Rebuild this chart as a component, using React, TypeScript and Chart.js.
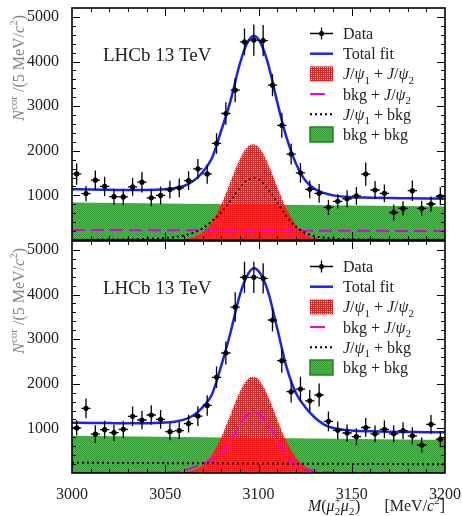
import React, { useEffect, useRef } from "react";
import { Chart, registerables } from "chart.js";
Chart.register(...registerables);

const FONT = '"Liberation Serif", "DejaVu Serif", serif';

// ---- data ----
const binCenters = [
  3002.5, 3007.5, 3012.5, 3017.5, 3022.5, 3027.5, 3032.5, 3037.5, 3042.5, 3047.5,
  3052.5, 3057.5, 3062.5, 3067.5, 3072.5, 3077.5, 3082.5, 3087.5, 3092.5, 3097.5,
  3102.5, 3107.5, 3112.5, 3117.5, 3122.5, 3127.5, 3132.5, 3137.5, 3142.5, 3147.5,
  3152.5, 3157.5, 3162.5, 3167.5, 3172.5, 3177.5, 3182.5, 3187.5, 3192.5, 3197.5,
];
const halfBin = 2.5;

const dataTop = [
  1480, 1040, 1340, 1200, 970, 965, 1190, 1295, 945, 1000,
  1130, 1170, 1330, 1595, 1480, 2165, 2835, 3360, 4440, 4480,
  4470, 3470, 2570, 1925, 1505, 1136, 1046, 733, 866, 925,
  990, 1477, 1121, 1046, 616, 707, 1106, 710, 807, 980,
];
const errTop = [
  240, 170, 220, 220, 180, 180, 200, 230, 190, 200,
  200, 210, 210, 220, 220, 230, 250, 270, 300, 350,
  350, 250, 280, 230, 220, 200, 210, 170, 160, 190,
  200, 260, 200, 200, 180, 160, 230, 170, 170, 200,
];
const dataBottom = [
  1010, 1449, 870, 972, 904, 979, 1270, 1188, 1300, 1203,
  926, 952, 1105, 1275, 1515, 2145, 2690, 3720, 4386, 4386,
  4363, 3429, 2517, 1822, 1880, 1618, 1748, 1158, 956, 896,
  814, 1020, 878, 979, 878, 948, 833, 628, 1091, 758,
];
const errBottom = [
  170, 220, 200, 200, 180, 190, 220, 210, 220, 210,
  190, 190, 200, 220, 230, 240, 260, 330, 350, 350,
  340, 260, 270, 240, 280, 240, 260, 220, 200, 190,
  190, 210, 190, 200, 190, 190, 190, 170, 210, 180,
];

// curve sampling positions
const curveX = [
  3000, 3010, 3020, 3030, 3040, 3050, 3055, 3060, 3065, 3070, 3075, 3080, 3085, 3090,
  3094, 3097.5, 3101, 3105, 3110, 3115, 3120, 3125, 3130, 3135, 3140, 3150, 3160,
  3170, 3180, 3190, 3200,
];
const fitTop = [
  1140, 1130, 1125, 1120, 1120, 1135, 1160, 1210, 1320, 1520, 1830, 2450, 3120, 3950,
  4420, 4580, 4430, 3970, 3100, 2300, 1720, 1340, 1150, 1055, 1000, 960, 948,
  940, 935, 930, 925,
];
const fitBottom = [
  1125, 1122, 1118, 1115, 1115, 1130, 1150, 1195, 1290, 1470, 1760, 2400, 3150, 3990,
  4430, 4590, 4470, 4080, 3250, 2380, 1800, 1480, 1250, 1090, 1010, 955, 935,
  925, 920, 915, 912,
];
const sigSigTop = [
  0, 0, 0, 0, 0, 1, 5, 19, 61, 171, 400, 789, 1304, 1813,
  2083, 2148, 2034, 1722, 1196, 698, 343, 141, 49, 14, 3, 0, 0,
  0, 0, 0, 0,
];
const sigSigBottom = [
  0, 0, 0, 0, 0, 1, 6, 20, 63, 175, 405, 795, 1310, 1820,
  2090, 2155, 2040, 1730, 1205, 705, 350, 145, 52, 15, 4, 0, 0,
  0, 0, 0, 0,
];
const psi1BkgTop = [
  5, 8, 10, 15, 25, 45, 65, 100, 160, 260, 420, 620, 880, 1170,
  1340, 1390, 1330, 1150, 860, 530, 300, 160, 90, 55, 35, 18, 10,
  7, 5, 4, 3,
];
const bkgPsi2Bottom = [
  2, 3, 4, 6, 10, 12, 20, 60, 125, 205, 300, 440, 700, 1080,
  1300, 1360, 1300, 1090, 760, 400, 200, 85, 40, 20, 10, 6, 4,
  3, 3, 2, 2,
];
// flat components
const flatX = [3000, 3200];
const bkgBkgTop = [840, 750];
const bkgBkgBottom = [835, 740];
const bkgPsi2Top = [225, 200];
const psi1BkgBottom = [230, 195];

const yTicks = [1000, 2000, 3000, 4000, 5000];
const xTicks = [3000, 3050, 3100, 3150, 3200];
const yRange = [0, 5200];
const xRange = [3000, 3200];
const yMinorStep = 200;
const xMinorStep = 10;

// ---- rich text helper ----
type Seg = { t: string; it?: boolean; sub?: boolean; sup?: boolean; stackSup?: string };
function segFont(s: Seg, size: number) {
  const sz = s.sub || s.sup ? Math.round(size * 0.7) : size;
  return `${s.it ? "italic " : ""}${sz}px ${FONT}`;
}
function measureRich(ctx: CanvasRenderingContext2D, segs: Seg[], size: number) {
  let w = 0;
  for (const s of segs) {
    ctx.font = segFont(s, size);
    let sw = ctx.measureText(s.t).width;
    if (s.stackSup) sw = Math.max(sw, ctx.measureText(s.stackSup).width);
    w += sw;
  }
  return w;
}
function drawRich(
  ctx: CanvasRenderingContext2D, segs: Seg[], x: number, y: number,
  size: number, color: string, align: "left" | "right" = "left"
) {
  const w = measureRich(ctx, segs, size);
  let cx = align === "right" ? x - w : x;
  ctx.save();
  ctx.fillStyle = color;
  ctx.textAlign = "left";
  ctx.textBaseline = "alphabetic";
  for (const s of segs) {
    ctx.font = segFont(s, size);
    const dy = s.sub ? size * 0.28 : s.sup ? -size * 0.42 : 0;
    ctx.fillText(s.t, cx, y + dy);
    let sw = ctx.measureText(s.t).width;
    if (s.stackSup) {
      ctx.fillText(s.stackSup, cx, y - size * 0.42);
      sw = Math.max(sw, ctx.measureText(s.stackSup).width);
    }
    cx += sw;
  }
  ctx.restore();
}

const psi = (n: string): Seg[] => [{ t: "J", it: true }, { t: "/" }, { t: "ψ", it: true }, { t: n, sub: true }];
const legendTexts: Seg[][] = [
  [{ t: "Data" }],
  [{ t: "Total fit" }],
  [...psi("1"), { t: " + " }, ...psi("2")],
  [{ t: "bkg + " }, ...psi("2")],
  [...psi("1"), { t: " + bkg" }],
  [{ t: "bkg + bkg" }],
];
const yTitle: Seg[] = [
  { t: "N", it: true }, { t: "cor", sup: true }, { t: " /(5 MeV/" }, { t: "c", it: true },
  { t: "2", sup: true }, { t: ")" },
];
const xTitle: Seg[] = [
  { t: "M", it: true }, { t: "(" }, { t: "μ", it: true }, { t: "2", sub: true, stackSup: "+" },
  { t: "μ", it: true }, { t: "2", sub: true, stackSup: "−" }, { t: ")" }, { t: "      " },
  { t: "[MeV/" }, { t: "c", it: true }, { t: "2", sup: true }, { t: "]" },
];

const BLUE = "rgb(25,35,235)";
const MAGENTA = "rgb(225,0,225)";
const RED = "rgb(250,25,25)";

function makePatterns() {
  const r = document.createElement("canvas");
  r.width = 2; r.height = 2;
  const rc = r.getContext("2d")!;
  rc.fillStyle = RED;
  rc.fillRect(0, 0, 1, 1); rc.fillRect(1, 0, 1, 1); rc.fillRect(0, 1, 1, 1);
  const g = document.createElement("canvas");
  g.width = 2; g.height = 2;
  const gc = g.getContext("2d")!;
  gc.fillStyle = "rgb(76,182,76)"; gc.fillRect(0, 0, 2, 2);
  gc.fillStyle = "rgb(56,160,56)"; gc.fillRect(0, 0, 1, 1); gc.fillRect(1, 1, 1, 1);
  const tmp = document.createElement("canvas").getContext("2d")!;
  return {
    red: tmp.createPattern(r, "repeat")!,
    green: tmp.createPattern(g, "repeat")!,
  };
}

const pts = (xs: number[], ys: number[]) => xs.map((x, i) => ({ x, y: ys[i] }));

type Panel = {
  data: number[]; err: number[]; fit: number[]; sig: number[];
  green: number[];
  magenta: { x: number[]; y: number[] };
  dotted: { x: number[]; y: number[] };
  showX: boolean;
};

function makeConfig(p: Panel, pat: { red: CanvasPattern; green: CanvasPattern }): any {
  const decor = {
    id: "decor",
    beforeDatasetDraw(chart: any, args: any) {
      const ds = chart.data.datasets[args.index];
      if (!ds.errors) return;
      const { ctx, scales } = chart;
      const xs = scales.x, ys = scales.y;
      ctx.save();
      ctx.strokeStyle = "#000";
      ctx.lineWidth = 1.3;
      ds.data.forEach((d: any, i: number) => {
        const e = ds.errors[i];
        const px = xs.getPixelForValue(d.x), py = ys.getPixelForValue(d.y);
        ctx.beginPath();
        ctx.moveTo(xs.getPixelForValue(d.x - halfBin), py);
        ctx.lineTo(xs.getPixelForValue(d.x + halfBin), py);
        ctx.moveTo(px, ys.getPixelForValue(d.y - e));
        ctx.lineTo(px, ys.getPixelForValue(d.y + e));
        ctx.stroke();
      });
      ctx.restore();
    },
    afterDraw(chart: any) {
      const { ctx, chartArea: a, scales } = chart;
      const xs = scales.x, ys = scales.y;
      ctx.save();
      // ticks
      ctx.strokeStyle = "#000";
      ctx.lineWidth = 1;
      ctx.beginPath();
      for (let v = yRange[0] + yMinorStep; v < yRange[1]; v += yMinorStep) {
        const py = Math.round(ys.getPixelForValue(v)) + 0.5;
        const L = yTicks.includes(v) ? 8 : 4;
        ctx.moveTo(a.left, py); ctx.lineTo(a.left + L, py);
        ctx.moveTo(a.right, py); ctx.lineTo(a.right - L, py);
      }
      for (let v = xRange[0] + xMinorStep; v < xRange[1]; v += xMinorStep) {
        const px = Math.round(xs.getPixelForValue(v)) + 0.5;
        const L = xTicks.includes(v) ? 8 : 4;
        ctx.moveTo(px, a.bottom); ctx.lineTo(px, a.bottom - L);
        ctx.moveTo(px, a.top); ctx.lineTo(px, a.top + L);
      }
      ctx.stroke();
      // frame
      ctx.lineWidth = 1.6;
      ctx.strokeRect(a.left, a.top, a.right - a.left, a.bottom - a.top);
      ctx.restore();

      // LHCb label
      ctx.save();
      ctx.font = `19px ${FONT}`;
      ctx.fillStyle = "#222";
      ctx.textBaseline = "alphabetic";
      ctx.fillText("LHCb 13 TeV", a.left + 31, a.top + 53);
      ctx.restore();

      // y title
      ctx.save();
      ctx.translate(24, a.top + 7);
      ctx.rotate(-Math.PI / 2);
      drawRich(ctx, yTitle, 0, 0, 16, "#858585", "right");
      ctx.restore();

      // legend
      const sx0 = a.left + 238, sx1 = a.left + 261, tx = a.left + 271;
      legendTexts.forEach((segs, i) => {
        const y = a.top + 25.5 + i * 20.2;
        ctx.save();
        if (i === 0) {
          ctx.strokeStyle = "#000"; ctx.lineWidth = 1.3;
          ctx.beginPath();
          ctx.moveTo(sx0, y); ctx.lineTo(sx1, y);
          ctx.moveTo((sx0 + sx1) / 2, y - 6); ctx.lineTo((sx0 + sx1) / 2, y + 6);
          ctx.stroke();
          ctx.fillStyle = "#000";
          ctx.beginPath(); ctx.arc((sx0 + sx1) / 2, y, 2.5, 0, Math.PI * 2); ctx.fill();
        } else if (i === 1) {
          ctx.strokeStyle = BLUE; ctx.lineWidth = 2.5;
          ctx.beginPath(); ctx.moveTo(sx0, y); ctx.lineTo(sx1, y); ctx.stroke();
        } else if (i === 2) {
          ctx.fillStyle = pat.red; ctx.fillRect(sx0, y - 7.5, sx1 - sx0, 15);
        } else if (i === 3) {
          ctx.strokeStyle = MAGENTA; ctx.lineWidth = 2;
          ctx.beginPath(); ctx.moveTo(sx0, y); ctx.lineTo(sx0 + 15, y); ctx.stroke();
        } else if (i === 4) {
          ctx.strokeStyle = "#000"; ctx.lineWidth = 2; ctx.setLineDash([2, 3]);
          ctx.beginPath(); ctx.moveTo(sx0, y); ctx.lineTo(sx1, y); ctx.stroke();
        } else {
          ctx.fillStyle = pat.green; ctx.fillRect(sx0, y - 7.5, sx1 - sx0, 15);
          ctx.strokeStyle = "rgb(25,135,25)"; ctx.lineWidth = 1.5;
          ctx.strokeRect(sx0, y - 7.5, sx1 - sx0, 15);
        }
        ctx.restore();
        drawRich(ctx, segs, tx, y + 5.5, 16, "#222");
      });

      if (p.showX) {
        drawRich(ctx, xTitle, a.right, a.bottom + 38, 16, "#222", "right");
      }
    },
  };

  const tickFont = { family: FONT, size: 16 };
  const plain = (v: any) => String(v);
  return {
    type: "line",
    data: {
      datasets: [
        {
          label: "Data", data: pts(binCenters, p.data), errors: p.err, showLine: false,
          pointRadius: 2.6, pointBackgroundColor: "#000", pointBorderWidth: 0, order: 1,
        },
        {
          label: "Total fit", data: pts(curveX, p.fit), borderColor: BLUE, borderWidth: 2.5,
          pointRadius: 0, cubicInterpolationMode: "monotone", fill: false, order: 2,
        },
        {
          label: "dotted", data: pts(p.dotted.x, p.dotted.y), borderColor: "#000", borderWidth: 2,
          borderDash: [2, 3], pointRadius: 0, cubicInterpolationMode: "monotone", fill: false, order: 3,
        },
        {
          label: "magenta", data: pts(p.magenta.x, p.magenta.y), borderColor: MAGENTA, borderWidth: 2,
          borderDash: [13, 6], pointRadius: 0, cubicInterpolationMode: "monotone", fill: false, order: 4,
        },
        {
          label: "sig", data: pts(curveX, p.sig), borderWidth: 0, borderColor: "rgba(0,0,0,0)",
          backgroundColor: pat.red, pointRadius: 0, cubicInterpolationMode: "monotone", fill: "origin", order: 5,
        },
        {
          label: "bkg", data: pts(flatX, p.green), borderWidth: 0, borderColor: "rgba(0,0,0,0)",
          backgroundColor: pat.green, pointRadius: 0, fill: "origin", order: 6,
        },
      ],
    },
    options: {
      animation: false,
      responsive: false,
      events: [],
      layout: { padding: p.showX ? { top: 5, right: 17, bottom: 0, left: 0 } : { top: 8, right: 17, bottom: 5, left: 0 } },
      plugins: { legend: { display: false }, tooltip: { enabled: false } },
      scales: {
        x: {
          type: "linear", min: xRange[0], max: xRange[1],
          grid: { display: false }, border: { display: false },
          ticks: { display: p.showX, font: tickFont, color: "#222", padding: 4, maxRotation: 0, autoSkip: false, callback: plain },
          afterBuildTicks: (s: any) => { s.ticks = xTicks.map((v) => ({ value: v })); },
          afterFit: (s: any) => {
            s.height = p.showX ? 43 : 0;
            s.paddingLeft = 0; s.paddingRight = 0; s.paddingTop = 0; s.paddingBottom = 0;
          },
        },
        y: {
          type: "linear", min: yRange[0], max: yRange[1],
          grid: { display: false }, border: { display: false },
          ticks: { font: tickFont, color: "#222", padding: 5, callback: plain },
          afterBuildTicks: (s: any) => { s.ticks = yTicks.map((v) => ({ value: v })); },
          afterFit: (s: any) => {
            s.width = 72;
            s.paddingLeft = 0; s.paddingRight = 0; s.paddingTop = 0; s.paddingBottom = 0;
          },
        },
      },
    },
    plugins: [decor],
  };
}

export default function App() {
  const topRef = useRef<HTMLCanvasElement>(null);
  const botRef = useRef<HTMLCanvasElement>(null);
  useEffect(() => {
    const pat = makePatterns();
    const top = new Chart(topRef.current!, makeConfig({
      data: dataTop, err: errTop, fit: fitTop, sig: sigSigTop, green: bkgBkgTop,
      magenta: { x: flatX, y: bkgPsi2Top }, dotted: { x: curveX, y: psi1BkgTop }, showX: false,
    }, pat));
    const bot = new Chart(botRef.current!, makeConfig({
      data: dataBottom, err: errBottom, fit: fitBottom, sig: sigSigBottom, green: bkgBkgBottom,
      magenta: { x: curveX, y: bkgPsi2Bottom }, dotted: { x: flatX, y: psi1BkgBottom }, showX: true,
    }, pat));
    return () => { top.destroy(); bot.destroy(); };
  }, []);
  return (
    <div style={{ position: "absolute", left: 0, top: 0, width: 462, height: 516, background: "#fff" }}>
      <canvas ref={topRef} width={462} height={245} style={{ position: "absolute", left: 0, top: 0, width: 462, height: 245 }} />
      <canvas ref={botRef} width={462} height={280} style={{ position: "absolute", left: 0, top: 236, width: 462, height: 280 }} />
    </div>
  );
}
